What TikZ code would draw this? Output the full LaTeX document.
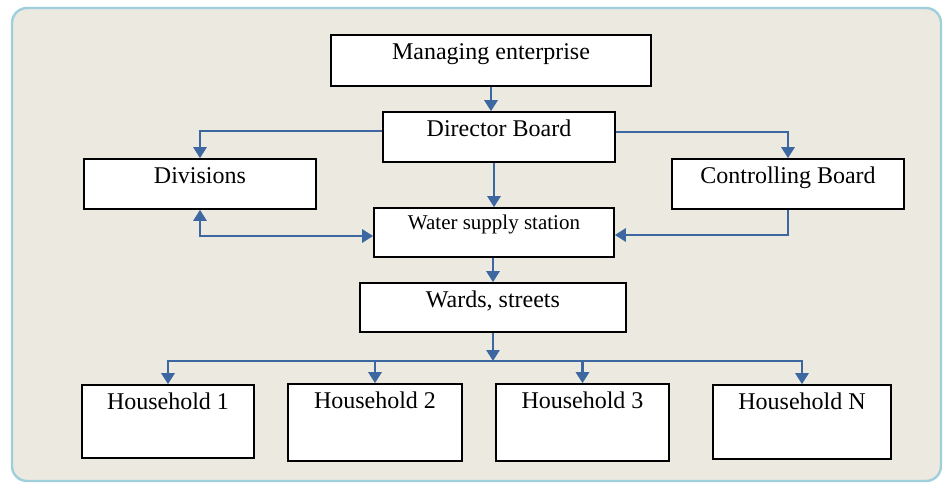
\documentclass[tikz,border=0pt]{standalone}
\usepackage{fontspec}
\setmainfont{Liberation Serif}
\usetikzlibrary{arrows.meta}
\definecolor{panel}{HTML}{ECE9E0}
\definecolor{panelborder}{HTML}{9FCFDD}
\definecolor{flowblue}{HTML}{3C67A1}
\tikzstyle{box} = [rectangle, draw, fill=white, line width=0.8pt, inner sep=0pt, text height=12pt, font=\fontsize{12}{14}\selectfont]
\tikzstyle{arrow} = [draw=flowblue, line width=1.3pt, -{Triangle[width=6.5pt, length=5.5pt]}]

\begin{document}
\begin{tikzpicture}[x=0.5pt, y=-0.5pt]
    \useasboundingbox (0,0) rectangle (944,483);
    \draw [panelborder, line width=1.2pt, fill=panel, rounded corners=7.5pt] (12,8) rectangle (941,481);

    \node [box, minimum width=160pt, text depth=13.5pt] at (491,60.5) (manage) {Managing enterprise};
    \node [box, minimum width=116pt, text depth=13pt] at (499,137) (director) {Director Board};
    \node [box, minimum width=116pt, text depth=13pt] at (200,184) (divisions) {Divisions};
    \node [box, minimum width=116pt, text depth=13pt] at (788,184) (control) {Controlling Board};
    \node [box, minimum width=120pt, text height=10.5pt, text depth=14pt, font=\fontsize{10.5}{12}\selectfont] at (494,232.5) (water) {Water supply station};
    \node [box, minimum width=133pt, text depth=12.5pt] at (493,307.5) (wards) {Wards, streets};
    \node [box, minimum width=86pt, text depth=24.5pt] at (168,421.5) (h1) {Household 1};
    \node [box, minimum width=87pt, text depth=26.5pt] at (375,422.5) (h2) {Household 2};
    \node [box, minimum width=86.5pt, text depth=26.5pt] at (582.5,422.5) (h3) {Household 3};
    \node [box, minimum width=89pt, text depth=25pt] at (802,422) (hN) {Household N};
    \coordinate (bus) at (493,361);

    \draw [arrow] (manage.south) -- (manage.south |- director.north);
    \draw [arrow] ([yshift=3pt]director.west) -| (divisions.north);
    \draw [arrow] ([yshift=2.5pt]director.east) -| (control.north);
    \draw [arrow] (water.north |- director.south) -- (water.north);
    \draw [arrow, {Triangle[width=6.5pt, length=5.5pt]}-{Triangle[width=6.5pt, length=5.5pt]}] (divisions.south) |- ([yshift=-1.75pt]water.west);
    \draw [arrow] (control.south) |- ([yshift=-1.25pt]water.east);
    \draw [arrow] (water.south -| wards.north) -- (wards.north);
    \draw [arrow] (wards.south) -- (bus);
    \draw [arrow] (bus) -| (h1.north);
    \draw [arrow] (bus) -| (h2.north);
    \draw [arrow] (bus) -| (h3.north);
    \draw [arrow] (bus) -| (hN.north);
\end{tikzpicture}
\end{document}
